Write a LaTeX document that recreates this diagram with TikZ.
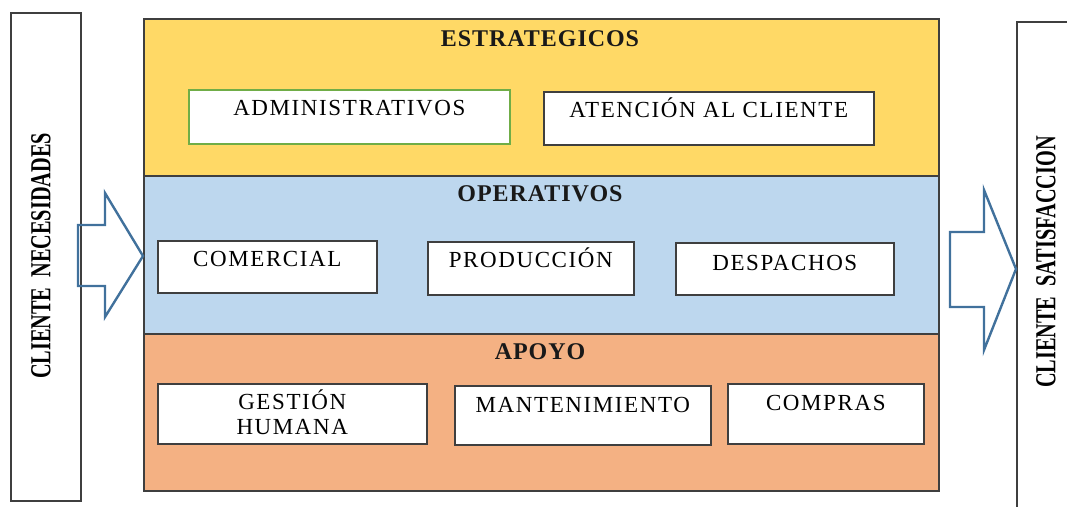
\documentclass[tikz,border=0pt]{standalone}
\usepackage{fontspec}
\setmainfont{Liberation Serif}
\newfontfamily\boxfont[LetterSpace=7]{Liberation Serif}
\newfontfamily\titlefont[LetterSpace=4]{Liberation Serif}
\newfontfamily\sidefont[FakeStretch=0.7]{Liberation Serif}
\usetikzlibrary{positioning}
\definecolor{stratyellow}{HTML}{FFD966}
\definecolor{operblue}{HTML}{BDD7EE}
\definecolor{apoyoorange}{HTML}{F4B183}
\definecolor{framegray}{HTML}{3F3F3F}
\definecolor{admgreen}{HTML}{70AD47}
\definecolor{arrowblue}{HTML}{41719C}

\begin{document}
\begin{tikzpicture}[x=1pt,y=-1pt,
  band/.style={
    draw=framegray,
    line width=1.6pt,
    anchor=north west,
    inner sep=0pt,
    minimum width=795pt,
  },
  bandtitle/.style={
    font=\titlefont\fontsize{24}{26}\selectfont\bfseries,
    text=black!90,
    inner sep=0pt,
  },
  procbox/.style={
    draw=framegray,
    fill=white,
    line width=1.6pt,
    anchor=north west,
    inner sep=0pt,
    align=center,
    font=\boxfont\fontsize{23}{25}\selectfont,
  },
  sidebox/.style={
    draw=framegray,
    line width=1.6pt,
    anchor=north west,
    inner sep=0pt,
  },
  sidetext/.style={
    rotate=90,
    inner sep=0pt,
    font=\sidefont\fontsize{29}{31}\selectfont\bfseries,
  },
  blockarrow/.style={
    draw=arrowblue,
    line width=2.4pt,
    line join=miter,
  },
  ]
  \useasboundingbox (0,0) rectangle (1067,506);
  \clip (0,0) rectangle (1067,506);

  % process levels
  \node[band, fill=stratyellow, minimum height=157pt] (strat) at (143,18) {};
  \node[band, fill=operblue, minimum height=158pt] (oper) at (143,175) {};
  \node[band, fill=apoyoorange, minimum height=157pt] (apoyo) at (143,333) {};

  \node[bandtitle] (stratTitle) at (540,39) {ESTRATEGICOS};
  \node[bandtitle] (operTitle) at (540,194) {OPERATIVOS};
  \node[bandtitle] (apoyoTitle) at (540,352) {APOYO};

  % process boxes
  \node[procbox, draw=admgreen, minimum width=321pt, text height=26pt, text depth=28pt]
    (adm) at (188,89) {ADMINISTRATIVOS};
  \foreach \name/\x/\y/\w/\h/\top/\txt in {
    aten/543/91/330/53/26/{ATENCIÓN AL CLIENTE},
    com/157/240/219/52/26/{COMERCIAL},
    prod/427/241/206/53/26/{PRODUCCIÓN},
    desp/675/242/218/52/28/{DESPACHOS},
    gest/157/383/269/60/51/{GESTIÓN\\HUMANA},
    mant/454/385/256/59/27/{MANTENIMIENTO},
    comp/727/383/196/60/27/{COMPRAS}}
  {
    \pgfmathsetmacro\dep{\h-\top}
    \node[procbox, minimum width=\w pt, text height=\top pt, text depth=\dep pt]
      (\name) at (\x,\y) {\txt};
  }

  % client sides
  \node[sidebox, minimum width=70pt, minimum height=488pt] (clienteIn) at (10,12) {};
  \node[sidebox, minimum width=80pt, minimum height=520pt] (clienteOut) at (1016,21) {};
  \node[sidetext] (inText) at (41,256) {CLIENTE\ \ NECESIDADES};
  \node[sidetext] (outText) at (1046,262) {CLIENTE\ \ SATISFACCION};

  % flow arrows
  \coordinate (inTip) at (oper.west |- 0,256);
  \coordinate (outTip) at (clienteOut.west |- 0,269);
  \draw[blockarrow] (inTip) -- ++(-38,-63) -- ++(0,32) -- ++(-27,0)
    -- ++(0,61) -- ++(27,0) -- ++(0,31) -- cycle;
  \draw[blockarrow] (outTip) -- ++(-32,-79) -- ++(0,42) -- ++(-34,0)
    -- ++(0,75) -- ++(34,0) -- ++(0,43) -- cycle;
\end{tikzpicture}
\end{document}
